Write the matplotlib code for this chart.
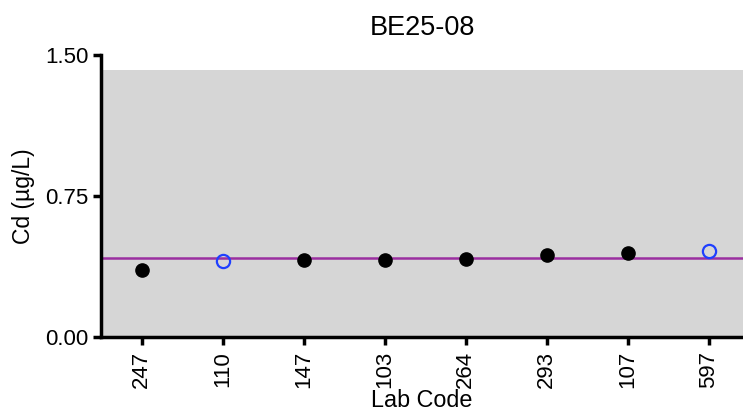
import matplotlib
matplotlib.use('Agg')
import matplotlib.pyplot as plt

plt.rcParams['font.family'] = ['Liberation Sans', 'DejaVu Sans']

# Data
lab_codes = ['247', '110', '147', '103', '264', '293', '107', '597']
cd_values = [0.356, 0.406, 0.41, 0.41, 0.416, 0.438, 0.448, 0.459]
is_open = [False, True, False, False, False, False, False, True]
assigned_value = 0.418
band_low, band_high = 0.0, 1.42

fig = plt.figure(figsize=(7.43, 4.16), dpi=100)
ax = fig.add_axes([0.136, 0.19, 0.864, 0.678])

ax.axhspan(band_low, band_high, color='#d6d6d6', zorder=0, lw=0)
ax.axhline(assigned_value, color='#9b2fa0', linewidth=1.8, zorder=2)

x = list(range(len(lab_codes)))
for xi, v, op in zip(x, cd_values, is_open):
    if op:
        ax.plot(xi, v, 'o', markersize=9.5, markerfacecolor='none',
                markeredgecolor='#1f3fff', markeredgewidth=1.6, zorder=3)
    else:
        ax.plot(xi, v, 'o', markersize=9.5, color='black', zorder=3)

ax.set_xlim(-0.5, 7.42)
ax.set_ylim(0, 1.5)
ax.set_yticks([0, 0.75, 1.5])
ax.set_yticklabels(['0.00', '0.75', '1.50'])
ax.set_xticks(x)
ax.set_xticklabels(lab_codes, rotation=90)

for s in ['top', 'right']:
    ax.spines[s].set_visible(False)
for s in ['left', 'bottom']:
    ax.spines[s].set_linewidth(2.5)
ax.tick_params(axis='both', direction='out', length=6, width=2.5, labelsize=16, pad=3)
ax.tick_params(axis='x', pad=4)

ax.set_xlabel('Lab Code', fontsize=16.8, labelpad=1)
ax.set_ylabel('Cd (µg/L)', fontsize=16.5, labelpad=7)
ax.set_title('BE25-08', fontsize=19.5, pad=14)

fig.savefig('out.png', dpi=100, facecolor='white')
